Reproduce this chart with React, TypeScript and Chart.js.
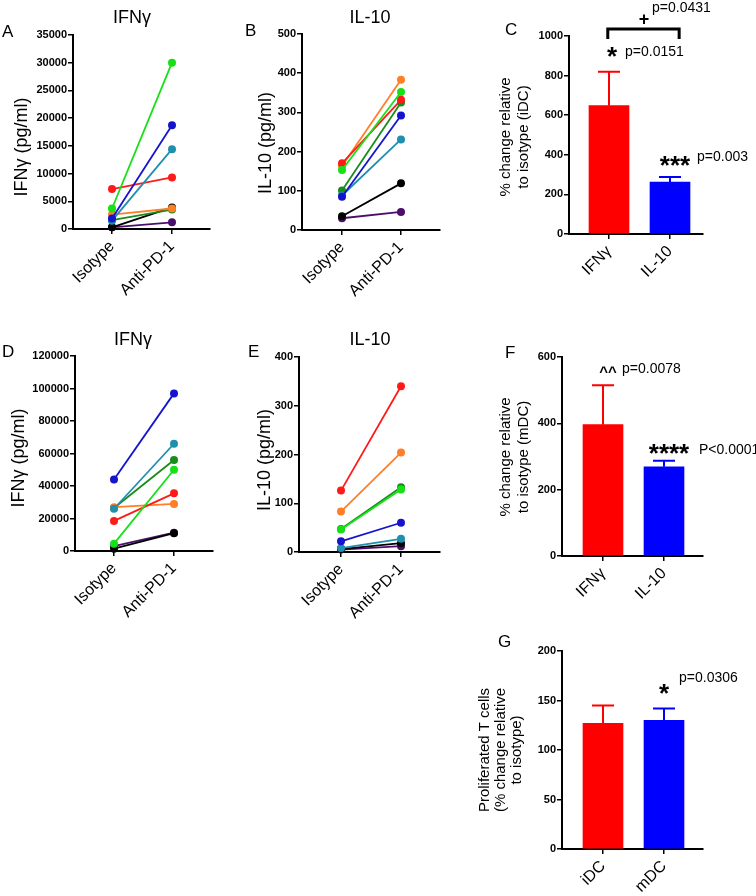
import React, { useEffect, useRef } from 'react';
import { Chart, registerables } from 'chart.js';
Chart.register(...registerables);

// ---------- DATA ----------
const pairLabels = ['Isotype', 'Anti-PD-1'];
// series order: green, blue, teal, red, orange, dark green, black, purple
const seriesColors = ['#17e017', '#1414cc', '#1f8fae', '#ff1a1a', '#ff7f27', '#1a8c1a', '#000000', '#4b0f6b'];
const ifngIdcIso = [3700, 1900, 1500, 7200, 2600, 1600, 300, 300];
const ifngIdcAnti = [30000, 18700, 14400, 9300, 3700, 3500, 3900, 1200];
const il10IdcIso = [153, 85, 88, 170, 163, 101, 35, 30];
const il10IdcAnti = [352, 292, 231, 332, 383, 325, 119, 46];
const ifngMdcIso = [4500, 44000, 26000, 18500, 27000, 26500, 1400, 3000];
const ifngMdcAnti = [50000, 97000, 66000, 35500, 29000, 56000, 11000, 11300];
const il10MdcIso = [46, 22, 8, 126, 83, 47, 6, 5];
const il10MdcAnti = [128, 60, 27, 340, 204, 133, 18, 12];

const cytokineLabels = ['IFNγ', 'IL-10'];
const idcChangeMean = [648, 262];
const idcChangeErr = [820, 288];
const mdcChangeMean = [396, 269];
const mdcChangeErr = [515, 287];
const prolifLabels = ['iDC', 'mDC'];
const prolifMean = [127, 130];
const prolifErr = [145, 142];
const barColors = ['#ff0000', '#0000ff'];

// ---------- LAYOUT ----------
const FONT = '"Liberation Sans", Arial, sans-serif';

type Rect = { x: number; y: number; w: number; h: number };
type Area = { l: number; t: number; r: number; b: number };
type Note = { text: string; x: number; y: number; font: string; align?: CanvasTextAlign };
type Panel = {
  canvas: Rect;
  area: Area;
  pos: [number, number];
  yMax: number;
  yStep: number;
  xLabels: string[];
  kind: 'pair' | 'bar';
  iso?: number[];
  anti?: number[];
  mean?: number[];
  err?: number[];
  letter: Note;
  title?: Note;
  yTitle: { lines: string[]; cx: number; cy: number; size: number; spacing: number };
  notes: Note[];
  bracket?: { x0: number; x1: number; yTop: number; yBot: number };
};

const starFont = `bold 26px ${FONT}`;
const pFont = `14px ${FONT}`;

const panels: Panel[] = [
  {
    canvas: { x: 0, y: 0, w: 240, h: 300 },
    area: { l: 73, t: 35, r: 210, b: 229 },
    pos: [112, 172], yMax: 35000, yStep: 5000, xLabels: pairLabels, kind: 'pair',
    iso: ifngIdcIso, anti: ifngIdcAnti,
    letter: { text: 'A', x: 2, y: 37, font: `17px ${FONT}` },
    title: { text: 'IFNγ', x: 132, y: 23, font: `18px ${FONT}`, align: 'center' },
    yTitle: { lines: ['IFNγ (pg/ml)'], cx: 22, cy: 147, size: 18, spacing: 18 },
    notes: [],
  },
  {
    canvas: { x: 240, y: 0, w: 250, h: 300 },
    area: { l: 302, t: 34, r: 440, b: 230 },
    pos: [342, 401], yMax: 500, yStep: 100, xLabels: pairLabels, kind: 'pair',
    iso: il10IdcIso, anti: il10IdcAnti,
    letter: { text: 'B', x: 245, y: 36, font: `17px ${FONT}` },
    title: { text: 'IL-10', x: 370, y: 23, font: `18px ${FONT}`, align: 'center' },
    yTitle: { lines: ['IL-10 (pg/ml)'], cx: 266, cy: 143, size: 18, spacing: 18 },
    notes: [],
  },
  {
    canvas: { x: 490, y: 0, w: 266, h: 300 },
    area: { l: 569, t: 36, r: 703, b: 234 },
    pos: [609, 670], yMax: 1000, yStep: 200, xLabels: cytokineLabels, kind: 'bar',
    mean: idcChangeMean, err: idcChangeErr,
    letter: { text: 'C', x: 505, y: 35, font: `17px ${FONT}` },
    yTitle: { lines: ['% change relative', 'to isotype (iDC)'], cx: 515, cy: 137, size: 15, spacing: 18 },
    notes: [
      { text: '+', x: 644, y: 25, font: `bold 18px ${FONT}`, align: 'center' },
      { text: 'p=0.0431', x: 652, y: 12, font: pFont },
      { text: '*', x: 612, y: 65, font: starFont, align: 'center' },
      { text: 'p=0.0151', x: 625, y: 56, font: pFont },
      { text: '***', x: 675, y: 174, font: starFont, align: 'center' },
      { text: 'p=0.003', x: 697, y: 161, font: pFont },
    ],
    bracket: { x0: -0.02, x1: 1.15, yTop: 1035, yBot: 985 },
  },
  {
    canvas: { x: 0, y: 300, w: 240, h: 320 },
    area: { l: 75, t: 356, r: 213, b: 551 },
    pos: [114, 174], yMax: 120000, yStep: 20000, xLabels: pairLabels, kind: 'pair',
    iso: ifngMdcIso, anti: ifngMdcAnti,
    letter: { text: 'D', x: 2, y: 357, font: `17px ${FONT}` },
    title: { text: 'IFNγ', x: 133, y: 345, font: `18px ${FONT}`, align: 'center' },
    yTitle: { lines: ['IFNγ (pg/ml)'], cx: 19, cy: 458, size: 18, spacing: 18 },
    notes: [],
  },
  {
    canvas: { x: 240, y: 300, w: 250, h: 320 },
    area: { l: 299, t: 357, r: 440, b: 552 },
    pos: [341, 401], yMax: 400, yStep: 100, xLabels: pairLabels, kind: 'pair',
    iso: il10MdcIso, anti: il10MdcAnti,
    letter: { text: 'E', x: 248, y: 357, font: `17px ${FONT}` },
    title: { text: 'IL-10', x: 370, y: 345, font: `18px ${FONT}`, align: 'center' },
    yTitle: { lines: ['IL-10 (pg/ml)'], cx: 265, cy: 460, size: 18, spacing: 18 },
    notes: [],
  },
  {
    canvas: { x: 490, y: 300, w: 266, h: 310 },
    area: { l: 562, t: 357, r: 703, b: 556 },
    pos: [603, 664], yMax: 600, yStep: 200, xLabels: cytokineLabels, kind: 'bar',
    mean: mdcChangeMean, err: mdcChangeErr,
    letter: { text: 'F', x: 505, y: 358, font: `17px ${FONT}` },
    yTitle: { lines: ['% change relative', 'to isotype (mDC)'], cx: 515, cy: 457, size: 15, spacing: 18 },
    notes: [
      { text: '^^', x: 608, y: 377, font: `bold 15px ${FONT}`, align: 'center' },
      { text: 'p=0.0078', x: 622, y: 373, font: pFont },
      { text: '****', x: 669, y: 462, font: starFont, align: 'center' },
      { text: 'P<0.0001', x: 699, y: 454, font: pFont },
    ],
  },
  {
    canvas: { x: 470, y: 610, w: 286, h: 286 },
    area: { l: 562, t: 651, r: 703, b: 849 },
    pos: [603, 664], yMax: 200, yStep: 50, xLabels: prolifLabels, kind: 'bar',
    mean: prolifMean, err: prolifErr,
    letter: { text: 'G', x: 498, y: 647, font: `17px ${FONT}` },
    yTitle: { lines: ['Proliferated T cells', '(% change relative', 'to isotype)'], cx: 501, cy: 750, size: 15, spacing: 16 },
    notes: [
      { text: '*', x: 664, y: 702, font: starFont, align: 'center' },
      { text: 'p=0.0306', x: 679, y: 682, font: pFont },
    ],
  },
];

function buildConfig(p: Panel): any {
  const { canvas, area } = p;
  const unit = p.pos[1] - p.pos[0];
  const xMin = -(p.pos[0] - area.l) / unit;
  const xMax = 1 + (area.r - p.pos[1]) / unit;

  const textPlugin = {
    id: 'panelText',
    afterDatasetsDraw(chart: any) {
      const ctx: CanvasRenderingContext2D = chart.ctx;
      const xs = chart.scales.x;
      const ys = chart.scales.y;
      ctx.save();
      if (p.kind === 'bar' && p.err && p.mean) {
        p.err.forEach((e, i) => {
          const px = xs.getPixelForValue(i);
          const yTop = ys.getPixelForValue(e);
          const yBase = ys.getPixelForValue(p.mean![i]);
          ctx.strokeStyle = barColors[i];
          ctx.lineWidth = 2;
          ctx.beginPath();
          ctx.moveTo(px, yBase);
          ctx.lineTo(px, yTop);
          ctx.moveTo(px - 11, yTop);
          ctx.lineTo(px + 11, yTop);
          ctx.stroke();
        });
      }
      if (p.bracket) {
        const b = p.bracket;
        const x0 = xs.getPixelForValue(b.x0);
        const x1 = xs.getPixelForValue(b.x1);
        const yt = ys.getPixelForValue(b.yTop);
        const yb = ys.getPixelForValue(b.yBot);
        ctx.strokeStyle = '#000';
        ctx.lineWidth = 3;
        ctx.lineJoin = 'miter';
        ctx.beginPath();
        ctx.moveTo(x0, yb);
        ctx.lineTo(x0, yt);
        ctx.lineTo(x1, yt);
        ctx.lineTo(x1, yb);
        ctx.stroke();
      }
      ctx.translate(-canvas.x, -canvas.y);
      ctx.fillStyle = '#000';
      ctx.textBaseline = 'alphabetic';
      const notes = [p.letter, ...(p.title ? [p.title] : []), ...p.notes];
      notes.forEach((n) => {
        ctx.font = n.font;
        ctx.textAlign = n.align || 'left';
        ctx.fillText(n.text, n.x, n.y);
      });
      const yt = p.yTitle;
      ctx.save();
      ctx.translate(yt.cx, yt.cy);
      ctx.rotate(-Math.PI / 2);
      ctx.font = `${yt.size}px ${FONT}`;
      ctx.textAlign = 'center';
      ctx.textBaseline = 'middle';
      const n = yt.lines.length;
      yt.lines.forEach((line, i) => {
        ctx.fillText(line, 0, (i - (n - 1) / 2) * yt.spacing);
      });
      ctx.restore();
      ctx.restore();
    },
  };

  const gridOpts = {
    display: true,
    drawOnChartArea: false,
    drawTicks: true,
    tickLength: 5,
    color: '#000',
    lineWidth: 1.5,
  };
  const borderOpts = { display: true, color: '#000', width: 2 };

  const datasets =
    p.kind === 'pair'
      ? seriesColors.map((c, i) => ({
          data: [
            { x: 0, y: p.iso![i] },
            { x: 1, y: p.anti![i] },
          ],
          borderColor: c,
          backgroundColor: c,
          borderWidth: 1.8,
          pointRadius: 4,
          pointHoverRadius: 4,
          pointBorderWidth: 0,
          clip: false,
        }))
      : [
          {
            data: p.mean!.map((m, i) => ({ x: i, y: m })),
            backgroundColor: barColors,
            borderWidth: 0,
            barThickness: 40,
            clip: false,
          },
        ];

  return {
    type: p.kind === 'pair' ? 'line' : 'bar',
    data: { datasets },
    plugins: [textPlugin],
    options: {
      responsive: false,
      maintainAspectRatio: false,
      animation: false,
      events: [],
      layout: {
        padding: {
          left: 0,
          top: area.t - canvas.y,
          right: canvas.x + canvas.w - area.r,
          bottom: 0,
        },
      },
      plugins: { legend: { display: false }, tooltip: { enabled: false }, title: { display: false } },
      scales: {
        x: {
          type: 'linear',
          min: xMin,
          max: xMax,
          offset: false,
          afterBuildTicks: (s: any) => {
            s.ticks = [{ value: 0 }, { value: 1 }];
          },
          afterFit: (s: any) => {
            s.height = canvas.y + canvas.h - area.b;
          },
          ticks: {
            autoSkip: false,
            minRotation: 45,
            maxRotation: 45,
            padding: 3,
            color: '#000',
            font: { family: FONT, size: 16 },
            callback: (v: number) => p.xLabels[v] ?? '',
          },
          grid: { ...gridOpts, offset: false },
          border: borderOpts,
        },
        y: {
          type: 'linear',
          min: 0,
          max: p.yMax,
          afterFit: (s: any) => {
            s.width = area.l - (canvas.x);
          },
          ticks: {
            stepSize: p.yStep,
            padding: 1,
            color: '#000',
            font: { family: FONT, size: 11, weight: 'bold' },
            callback: (v: number) => String(v),
          },
          grid: gridOpts,
          border: borderOpts,
        },
      },
    },
  };
}

function PanelChart({ p }: { p: Panel }) {
  const ref = useRef<HTMLCanvasElement>(null);
  useEffect(() => {
    const chart = new Chart(ref.current as HTMLCanvasElement, buildConfig(p));
    return () => chart.destroy();
  }, [p]);
  return (
    <canvas
      ref={ref}
      width={p.canvas.w}
      height={p.canvas.h}
      style={{
        position: 'absolute',
        left: p.canvas.x,
        top: p.canvas.y,
        width: p.canvas.w,
        height: p.canvas.h,
      }}
    />
  );
}

export default function App() {
  return (
    <div
      style={{
        position: 'absolute',
        left: 0,
        top: 0,
        width: 756,
        height: 896,
        background: '#fff',
        overflow: 'hidden',
      }}
    >
      {panels.map((p, i) => (
        <PanelChart key={i} p={p} />
      ))}
    </div>
  );
}
